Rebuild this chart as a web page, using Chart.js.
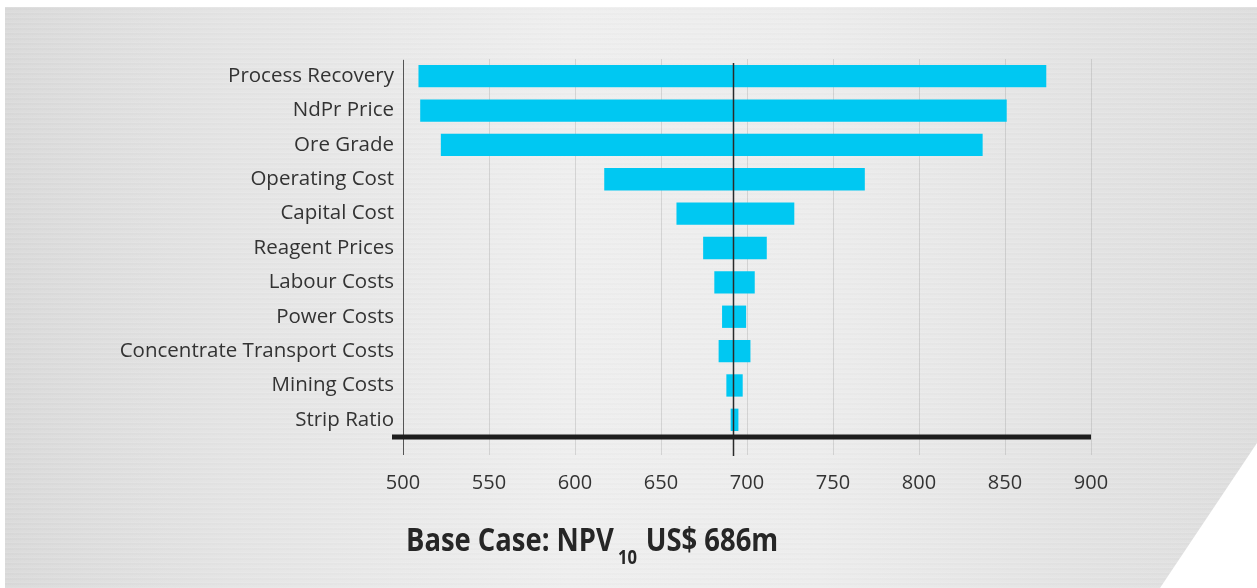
<!DOCTYPE html>
<html>
<head>
<meta charset="utf-8">
<script src="https://cdn.jsdelivr.net/npm/chart.js@4.4.1/dist/chart.umd.min.js"></script>
<style>
  html, body { margin: 0; padding: 0; background: #fff; }
  #wrap { position: relative; width: 1257px; height: 588px; overflow: hidden; }
  /* brushed metal panel with the white corner cut out */
  #panel {
    position: absolute; left: 5px; top: 7px; right: 0; bottom: 0;
    background:
      repeating-linear-gradient(180deg, rgba(255,255,255,0.12) 0 1px, rgba(0,0,0,0.008) 1px 3px, rgba(255,255,255,0.05) 3px 5px),
      linear-gradient(90deg, #d9d9d9 0%, #e4e4e4 18%, #eeeeee 45%, #ececec 65%, #e3e3e3 85%, #dddddd 100%);
    clip-path: polygon(0 0, 100% 0, 100% 436px, 1155px 100%, 0 100%);
  }
  #tornado { position: absolute; left: 0; top: 0; }
  #caption {
    position: absolute; left: 406px; top: 522px;
    font-family: "Open Sans", sans-serif; line-height: 33px;
    font-weight: bold; font-size: 33px; color: #262626; white-space: nowrap;
    transform: scaleX(0.83); transform-origin: left center;
  }
  #caption sub { font-size: 20px; line-height: 0; vertical-align: -13px; margin-left: 5px; margin-right: 2px; }
</style>
</head>
<body>
<div id="wrap">
  <div id="panel"></div>
  <canvas id="tornado" width="1257" height="588"></canvas>
  <div id="caption">Base Case: NPV<sub>10</sub> US$ 686m</div>
</div>
<script>
  // Sensitivity factors, top to bottom
  var factors = ['Process Recovery', 'NdPr Price', 'Ore Grade', 'Operating Cost', 'Capital Cost',
    'Reagent Prices', 'Labour Costs', 'Power Costs', 'Concentrate Transport Costs', 'Mining Costs', 'Strip Ratio'];

  // NPV range for each factor (US$m)
  var lowValues  = [509, 510, 522, 617, 659, 674.5, 681, 685.5, 683.5, 688, 690.5];
  var highValues = [874, 851, 837, 768.5, 727.5, 711.5, 704.5, 699.5, 702, 697.5, 695];

  // x axis tick labels
  var tickValues = [500, 550, 600, 650, 700, 750, 800, 850, 900];

  // base case line (where it is drawn on the axis)
  var baseLine = 692;

  var barColor = '#00c8f2';
  var labelFont = { family: 'Open Sans', size: 20.5 };

  // extra lines: left axis, base case marker and the heavy bottom rule
  var tornadoLines = {
    id: 'tornadoLines',
    afterDatasetsDraw(chart) {
      const ctx = chart.ctx;
      const area = chart.chartArea;
      const x = chart.scales.x;
      ctx.save();
      // left axis
      ctx.strokeStyle = '#555';
      ctx.lineWidth = 1;
      ctx.beginPath();
      ctx.moveTo(area.left + 0.5, area.top + 1);
      ctx.lineTo(area.left + 0.5, area.bottom + 18);
      ctx.stroke();
      // base case
      const bx = Math.round(x.getPixelForValue(baseLine)) + 0.5;
      ctx.strokeStyle = '#2a2a2a';
      ctx.lineWidth = 1.5;
      ctx.beginPath();
      ctx.moveTo(bx, area.top + 4);
      ctx.lineTo(bx, area.bottom + 19);
      ctx.stroke();
      // bottom rule
      ctx.strokeStyle = '#1e1e1e';
      ctx.lineWidth = 5;
      ctx.beginPath();
      ctx.moveTo(area.left - 11, area.bottom);
      ctx.lineTo(area.right, area.bottom);
      ctx.stroke();
      ctx.restore();
    }
  };

  var data = {
    labels: factors,
    datasets: [{
      label: 'NPV range',
      data: factors.map((f, i) => [lowValues[i], highValues[i]]),
      backgroundColor: barColor,
      borderWidth: 0,
      borderSkipped: false,
      barPercentage: 0.65,
      categoryPercentage: 1
    }]
  };

  var options = {
    indexAxis: 'y',
    responsive: false,
    animation: false,
    layout: { padding: { top: 59, right: 166, left: 0, bottom: 0 } },
    plugins: { legend: { display: false }, tooltip: { enabled: false } },
    scales: {
      x: {
        type: 'linear',
        min: 500,
        max: 900,
        afterBuildTicks: (scale) => { scale.ticks = tickValues.map(v => ({ value: v })); },
        afterFit: (scale) => { scale.height = 151; },
        grid: { color: 'rgba(150,150,150,0.3)', lineWidth: 1, tickLength: 18 },
        border: { display: false },
        ticks: { color: '#333', font: { family: 'Open Sans', size: 20 }, padding: 16 }
      },
      y: {
        afterFit: (scale) => { scale.width = 403; },
        grid: { display: false, drawTicks: false },
        border: { display: false },
        ticks: { color: '#333', font: labelFont, padding: 9 }
      }
    }
  };

  var ctx = document.getElementById('tornado').getContext('2d');
  var tornadoChart = new Chart(ctx, { type: 'bar', data, options, plugins: [tornadoLines] });
</script>
</body>
</html>
